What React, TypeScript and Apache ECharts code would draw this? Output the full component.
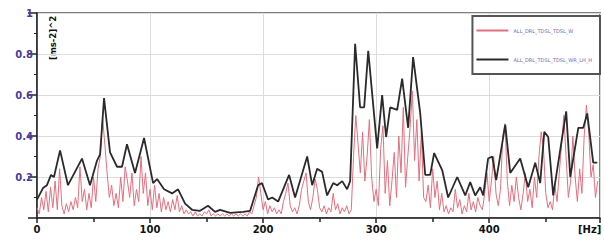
import React, { useEffect, useRef } from "react";
import * as echarts from "echarts";

const xTicks = [0, 100, 200, 300, 400];
const yTicks = [0.2, 0.4, 0.6, 0.8, 1];
const seriesNames = ["ALL_DRL_TDSL_TDSL_W", "ALL_DRL_TDSL_TDSL_WR_LH_H"];
const unitX = "[Hz]";
const unitY = "[ms-2]^2";

// red (dense) spectrum, 2 Hz resolution starting at 0 Hz
const redStep = 2;
const redValues = [
  0.05, 0.02, 0.10, 0.04, 0.13, 0.03, 0.15, 0.05, 0.18, 0.04, 0.24,
  0.06, 0.02, 0.07, 0.03, 0.08, 0.04, 0.10, 0.05, 0.25, 0.08,
  0.14, 0.04, 0.12, 0.05, 0.20, 0.08, 0.24, 0.30, 0.49, 0.36,
  0.22, 0.10, 0.16, 0.06, 0.12, 0.05, 0.20, 0.08, 0.25, 0.18,
  0.10, 0.22, 0.06, 0.14, 0.08, 0.30, 0.12, 0.22, 0.06, 0.14,
  0.04, 0.16, 0.05, 0.12, 0.03, 0.10, 0.04, 0.08, 0.03, 0.09,
  0.04, 0.11, 0.03, 0.06, 0.02, 0.04, 0.02, 0.03, 0.01, 0.03,
  0.01, 0.02, 0.01, 0.03, 0.02, 0.04, 0.01, 0.02, 0.01, 0.02,
  0.01, 0.02, 0.01, 0.02, 0.01, 0.02, 0.01, 0.02, 0.01, 0.02,
  0.01, 0.02, 0.01, 0.03, 0.02, 0.06, 0.10, 0.20, 0.12, 0.04,
  0.08, 0.02, 0.06, 0.03, 0.05, 0.02, 0.04, 0.02, 0.08, 0.12,
  0.17, 0.06, 0.03, 0.05, 0.02, 0.06, 0.14, 0.18, 0.22, 0.08,
  0.04, 0.10, 0.19, 0.14, 0.05, 0.03, 0.06, 0.02, 0.05, 0.03,
  0.12, 0.04, 0.07, 0.02, 0.05, 0.03, 0.06, 0.02, 0.04, 0.30,
  0.50, 0.36, 0.22, 0.42, 0.18, 0.30, 0.48, 0.20, 0.08, 0.14,
  0.06, 0.34, 0.45, 0.12, 0.28, 0.06, 0.18, 0.32, 0.10, 0.40,
  0.22, 0.54, 0.15, 0.30, 0.44, 0.62, 0.28, 0.48, 0.18, 0.42,
  0.10, 0.08, 0.16, 0.05, 0.24, 0.10, 0.18, 0.04, 0.12, 0.03,
  0.06, 0.02, 0.05, 0.03, 0.14, 0.05, 0.09, 0.02, 0.06, 0.03,
  0.12, 0.04, 0.08, 0.03, 0.10, 0.06, 0.04, 0.12, 0.22, 0.08,
  0.18, 0.30, 0.12, 0.06, 0.14, 0.40, 0.46, 0.18, 0.06, 0.16,
  0.08, 0.20, 0.10, 0.04, 0.12, 0.22, 0.08, 0.14, 0.05, 0.20,
  0.10, 0.30, 0.42, 0.34, 0.12, 0.05, 0.08, 0.04, 0.16, 0.08,
  0.22, 0.36, 0.50, 0.30, 0.10, 0.18, 0.40, 0.20, 0.08, 0.24,
  0.12, 0.40, 0.55, 0.42, 0.20, 0.26, 0.10, 0.18,
];

// black envelope: frequency (Hz) and value
const blackHz = [
  0, 5.3, 8.8, 12.4, 15, 20.4, 27.4, 39.8, 46.9, 53.1, 55.8, 59.3, 64.6, 70.8,
  75.2, 79.6, 86.7, 94.7, 102.7, 106.2, 112.4, 119.5, 124.8, 131, 137.2, 144.2,
  151.3, 157.5, 162, 170.8, 182.3, 188.5, 195.6, 199, 204.4, 208, 213.3, 223,
  228.3, 239, 243.4, 247.8, 252.2, 256.6, 262, 265.5, 270, 274.3, 277, 281.4,
  285.8, 289.4, 293, 300.9, 305.3, 308.8, 312.4, 318.6, 323, 328.3, 332.7, 339,
  343.4, 347.8, 351.3, 358.4, 363.7, 371.7, 378.8, 383.2, 387.6, 392, 394.7,
  399, 402.7, 406.2, 414.2, 418.6, 427.4, 434.5, 440.7, 445.1, 448.7, 452.2,
  456.6, 468.1, 471.7, 478.8, 483.2, 486.7, 492, 495.6,
];
const blackValues = [
  0.09, 0.146, 0.16, 0.21, 0.2, 0.33, 0.16, 0.29, 0.16, 0.28, 0.31, 0.585, 0.32, 0.25,
  0.25, 0.36, 0.22, 0.39, 0.17, 0.19, 0.14, 0.12, 0.14, 0.07, 0.04, 0.035,
  0.06, 0.03, 0.04, 0.025, 0.03, 0.035, 0.16, 0.17, 0.09, 0.1, 0.08, 0.21,
  0.1, 0.3, 0.16, 0.24, 0.225, 0.11, 0.17, 0.16, 0.18, 0.14, 0.18, 0.85,
  0.54, 0.54, 0.815, 0.34, 0.6, 0.395, 0.54, 0.527, 0.68, 0.44, 0.785, 0.51,
  0.21, 0.21, 0.317, 0.234, 0.1, 0.2, 0.11, 0.175, 0.11, 0.15, 0.11,
  0.29, 0.3, 0.185, 0.455, 0.22, 0.29, 0.15, 0.27, 0.17, 0.42, 0.395,
  0.11, 0.52, 0.2, 0.44, 0.44, 0.51, 0.27, 0.27,
];

const redColor = "#e2707e";
const blackColor = "#2a2a2a";

export default function App() {
  const ref = useRef<HTMLDivElement>(null);
  useEffect(() => {
    if (!ref.current) return;
    const chart = echarts.init(ref.current, undefined, { renderer: "svg" });
    const redData = redValues.map((v, i) => [i * redStep, v]);
    const blackData = blackHz.map((h, i) => [h, blackValues[i]]);
    const labelFont = { fontFamily: "DejaVu Sans", fontWeight: "bold" as const, fontSize: 10 };
    chart.setOption({
      animation: false,
      backgroundColor: "#ffffff",
      grid: {
        left: 37,
        right: 4,
        top: 13,
        bottom: 22,
        show: true,
        borderColor: "#808080",
        borderWidth: 2,
        backgroundColor: "transparent",
      },
      legend: {
        right: 4,
        top: 16,
        orient: "vertical",
        align: "left",
        backgroundColor: "#ffffff",
        borderColor: "#555555",
        borderWidth: 2,
        borderRadius: 0,
        padding: [12, 8, 12, 4],
        itemGap: 24,
        itemWidth: 32,
        itemHeight: 2,
        textStyle: { fontSize: 5, color: "#6a6aaa", fontFamily: "DejaVu Sans", padding: [0, 0, 0, 0] },
        data: [
          { name: seriesNames[0], icon: "rect", itemStyle: { color: redColor } },
          { name: seriesNames[1], icon: "rect", itemStyle: { color: blackColor } },
        ],
      },
      xAxis: {
        type: "value",
        min: 0,
        max: 498,
        interval: 100,
        minorTick: { show: true, splitNumber: 2, length: 4, lineStyle: { color: "#222", width: 1.5 } },
        axisLine: { onZero: false, lineStyle: { color: "#222", width: 1.5 } },
        axisTick: { show: true, length: 5, lineStyle: { color: "#222", width: 1.5 } },
        axisLabel: { ...labelFont, color: "#111", margin: 6, showMaxLabel: false,
          formatter: (v: number) => (xTicks.includes(v) ? String(v) : "") },
        splitLine: { show: true, lineStyle: { color: "#dcdcdc", width: 1 } },
      },
      yAxis: {
        type: "value",
        min: 0,
        max: 1,
        interval: 0.2,
        minorTick: { show: true, splitNumber: 2, length: 3, lineStyle: { color: "#222", width: 1 } },
        axisLine: { lineStyle: { color: "#222", width: 1.5 } },
        axisTick: { show: true, length: 9, lineStyle: { color: "#222", width: 1.5 } },
        axisLabel: {
          ...labelFont,
          color: "#4a3c9c",
          margin: 4,
          formatter: (v: number) => {
            const t = yTicks.find((y) => Math.abs(y - v) < 1e-6);
            return t === undefined ? "" : String(t);
          },
        },
        splitLine: { show: true, lineStyle: { color: "#dcdcdc", width: 1 } },
      },
      graphic: [
        {
          type: "text",
          x: 48,
          y: 60,
          rotation: Math.PI / 2,
          style: { text: unitY, fontSize: 8.5, fontWeight: "bold", fontFamily: "DejaVu Sans", fill: "#111" },
        },
        {
          type: "text",
          x: 578,
          y: 224,
          style: { text: unitX, fontSize: 10, fontWeight: "bold", fontFamily: "DejaVu Sans", fill: "#111" },
        },
      ],
      series: [
        {
          name: seriesNames[0],
          type: "line",
          symbol: "none",
          data: redData,
          lineStyle: { color: redColor, width: 1 },
          itemStyle: { color: redColor },
          z: 2,
        },
        {
          name: seriesNames[1],
          type: "line",
          symbol: "none",
          data: blackData,
          lineStyle: { color: blackColor, width: 1.8 },
          itemStyle: { color: blackColor },
          z: 3,
        },
      ],
    });
    return () => chart.dispose();
  }, []);
  return (
    <div
      ref={ref}
      style={{ position: "absolute", left: 0, top: 0, width: 604, height: 240, background: "#fff" }}
    />
  );
}
